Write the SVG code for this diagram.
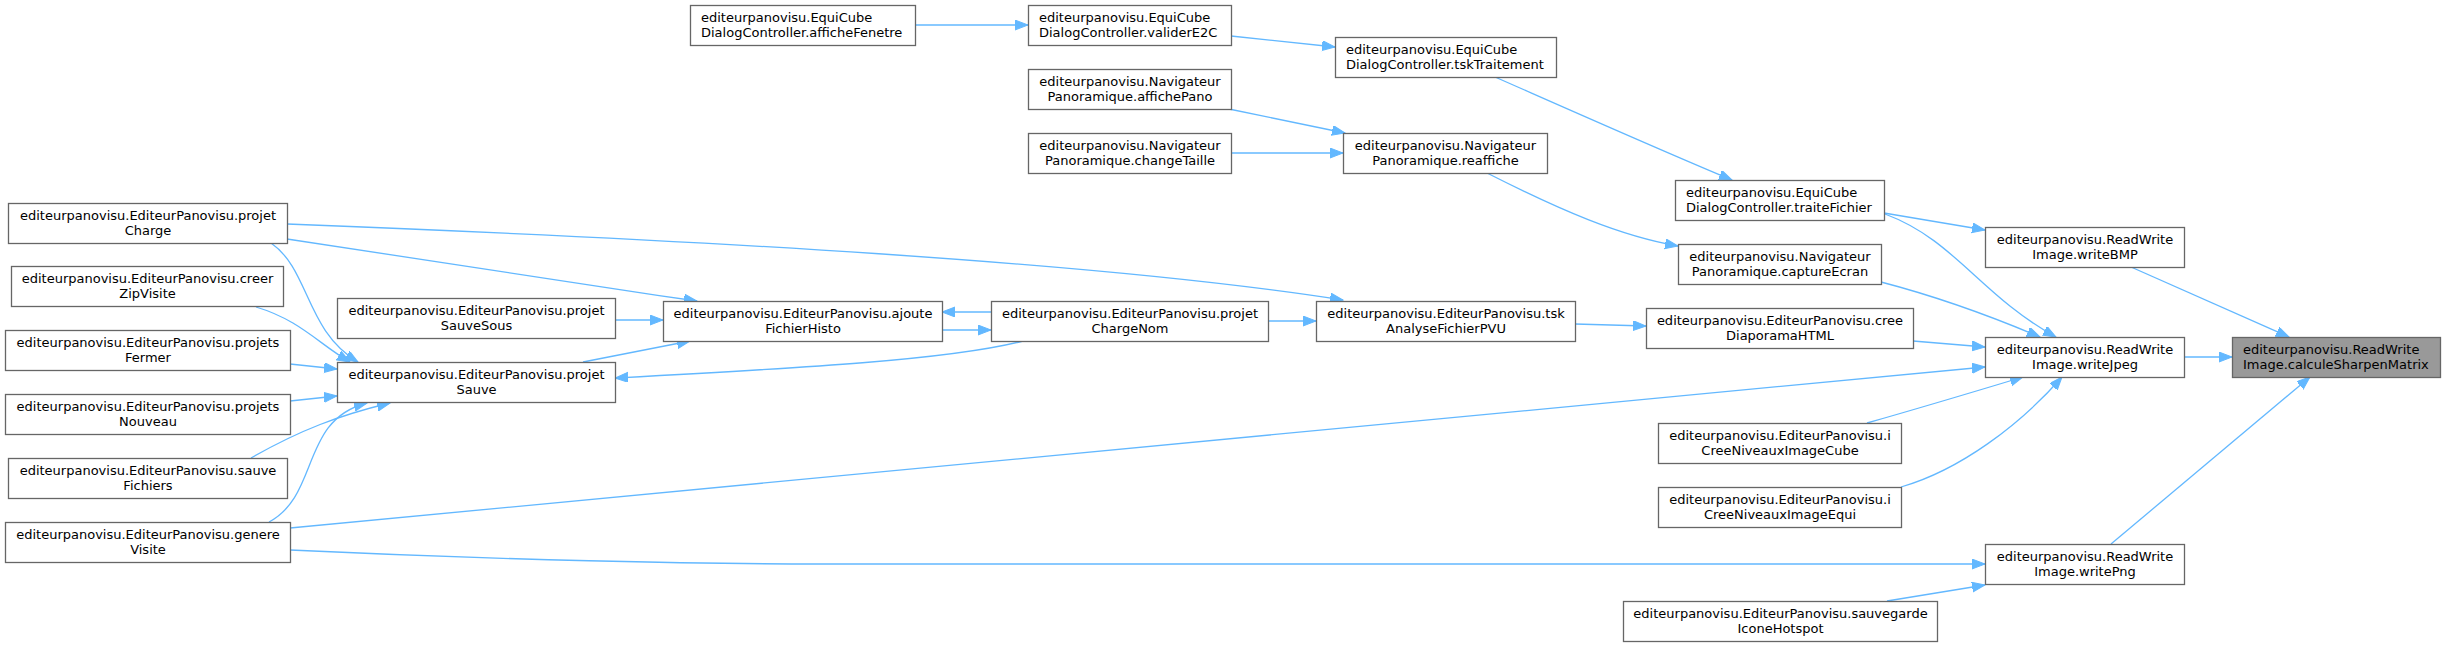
<svg xmlns="http://www.w3.org/2000/svg" width="2445" height="647" viewBox="0 0 2445 647">
<style>
.n rect{fill:#ffffff;stroke:#666666;stroke-width:1.3}
.n.hl rect{fill:#999999}
.n text{font-family:"DejaVu Sans","Liberation Sans",sans-serif;font-size:13px;fill:#000000}
.c{text-anchor:middle}
.l{text-anchor:start}
.e{fill:none;stroke:#63b8ff;stroke-width:1.3}
</style>
<defs>
<marker id="ah" markerUnits="userSpaceOnUse" markerWidth="14" markerHeight="12" refX="13" refY="5" orient="auto">
<path d="M0,0 L13,5 L0,10 z" fill="#63b8ff" stroke="#63b8ff" stroke-width="1"/>
</marker>
</defs>
<rect width="2445" height="647" fill="#ffffff"/>
<g id="connectors">
<path class="e" marker-end="url(#ah)" d="M915,25 L1028,25"/>
<path class="e" marker-end="url(#ah)" d="M1231,36 L1335,47"/>
<path class="e" marker-end="url(#ah)" d="M1229,109 L1345,133"/>
<path class="e" marker-end="url(#ah)" d="M1231,153 L1343,153"/>
<path class="e" marker-end="url(#ah)" d="M1495,77 C1570,110 1660,150 1732,180"/>
<path class="e" marker-end="url(#ah)" d="M1487,173 C1560,210 1620,236 1678,246"/>
<path class="e" marker-end="url(#ah)" d="M1884,213 L1985,230"/>
<path class="e" marker-end="url(#ah)" d="M1885,214 C1955,240 1980,295 2056,337"/>
<path class="e" marker-end="url(#ah)" d="M1881,282 C1950,300 2000,320 2040,337"/>
<path class="e" marker-end="url(#ah)" d="M1913,341 L1985,347"/>
<path class="e" marker-end="url(#ah)" d="M290,528 L1985,367"/>
<path class="e" marker-end="url(#ah)" d="M1867,423 C1920,408 1970,393 2023,377"/>
<path class="e" marker-end="url(#ah)" d="M1901,487 C1960,470 2020,425 2062,377"/>
<path class="e" marker-end="url(#ah)" d="M2131,267 L2289,337"/>
<path class="e" marker-end="url(#ah)" d="M2184,357 L2232,357"/>
<path class="e" marker-end="url(#ah)" d="M2111,544 L2310,377"/>
<path class="e" marker-end="url(#ah)" d="M290,550 C500,560 700,564 820,564 L1985,564"/>
<path class="e" marker-end="url(#ah)" d="M1887,601 L1985,585"/>
<path class="e" marker-end="url(#ah)" d="M1575,324 L1646,326"/>
<path class="e" marker-end="url(#ah)" d="M1268,321 L1316,321"/>
<path class="e" marker-end="url(#ah)" d="M287,224 C700,240 1100,262 1343,300"/>
<path class="e" marker-end="url(#ah)" d="M287,239 C400,255 550,280 697,301"/>
<path class="e" marker-end="url(#ah)" d="M615,320 L663,320"/>
<path class="e" marker-end="url(#ah)" d="M583,362 L690,341"/>
<path class="e" marker-end="url(#ah)" d="M991,312 L942,312"/>
<path class="e" marker-end="url(#ah)" d="M942,330 L991,330"/>
<path class="e" marker-end="url(#ah)" d="M1023,341 C950,360 800,368 615,378"/>
<path class="e" marker-end="url(#ah)" d="M271,243 C310,270 305,330 358,362"/>
<path class="e" marker-end="url(#ah)" d="M256,307 C300,320 320,345 350,362"/>
<path class="e" marker-end="url(#ah)" d="M290,364 L337,369"/>
<path class="e" marker-end="url(#ah)" d="M290,401 L337,396"/>
<path class="e" marker-end="url(#ah)" d="M251,458 C300,430 340,415 390,403"/>
<path class="e" marker-end="url(#ah)" d="M269,522 C320,495 300,420 367,403"/>
</g>
<g id="afficheFenetre" class="n"><rect x="690.5" y="5.5" width="225" height="40"/><text class="l" x="701" y="22">editeurpanovisu.EquiCube</text><text class="l" x="701" y="37">DialogController.afficheFenetre</text></g>
<g id="validerE2C" class="n"><rect x="1028.5" y="5.5" width="203" height="40"/><text class="l" x="1039" y="22">editeurpanovisu.EquiCube</text><text class="l" x="1039" y="37">DialogController.validerE2C</text></g>
<g id="tskTraitement" class="n"><rect x="1335.5" y="37.5" width="221" height="40"/><text class="l" x="1346" y="54">editeurpanovisu.EquiCube</text><text class="l" x="1346" y="69">DialogController.tskTraitement</text></g>
<g id="affichePano" class="n"><rect x="1028.5" y="69.5" width="203" height="40"/><text class="c" x="1130" y="86">editeurpanovisu.Navigateur</text><text class="c" x="1130" y="101">Panoramique.affichePano</text></g>
<g id="changeTaille" class="n"><rect x="1028.5" y="133.5" width="203" height="40"/><text class="c" x="1130" y="150">editeurpanovisu.Navigateur</text><text class="c" x="1130" y="165">Panoramique.changeTaille</text></g>
<g id="reaffiche" class="n"><rect x="1343.5" y="133.5" width="204" height="40"/><text class="c" x="1445.5" y="150">editeurpanovisu.Navigateur</text><text class="c" x="1445.5" y="165">Panoramique.reaffiche</text></g>
<g id="traiteFichier" class="n"><rect x="1675.5" y="180.5" width="209" height="40"/><text class="l" x="1686" y="197">editeurpanovisu.EquiCube</text><text class="l" x="1686" y="212">DialogController.traiteFichier</text></g>
<g id="captureEcran" class="n"><rect x="1678.5" y="244.5" width="203" height="40"/><text class="c" x="1780" y="261">editeurpanovisu.Navigateur</text><text class="c" x="1780" y="276">Panoramique.captureEcran</text></g>
<g id="creeDiaporamaHTML" class="n"><rect x="1646.5" y="308.5" width="267" height="40"/><text class="c" x="1780" y="325">editeurpanovisu.EditeurPanovisu.cree</text><text class="c" x="1780" y="340">DiaporamaHTML</text></g>
<g id="iCreeNiveauxImageCube" class="n"><rect x="1658.5" y="423.5" width="243" height="40"/><text class="c" x="1780" y="440">editeurpanovisu.EditeurPanovisu.i</text><text class="c" x="1780" y="455">CreeNiveauxImageCube</text></g>
<g id="iCreeNiveauxImageEqui" class="n"><rect x="1658.5" y="487.5" width="243" height="40"/><text class="c" x="1780" y="504">editeurpanovisu.EditeurPanovisu.i</text><text class="c" x="1780" y="519">CreeNiveauxImageEqui</text></g>
<g id="sauvegardeIconeHotspot" class="n"><rect x="1623.5" y="601.5" width="314" height="40"/><text class="c" x="1780.5" y="618">editeurpanovisu.EditeurPanovisu.sauvegarde</text><text class="c" x="1780.5" y="633">IconeHotspot</text></g>
<g id="writeBMP" class="n"><rect x="1985.5" y="227.5" width="199" height="40"/><text class="c" x="2085" y="244">editeurpanovisu.ReadWrite</text><text class="c" x="2085" y="259">Image.writeBMP</text></g>
<g id="writeJpeg" class="n"><rect x="1985.5" y="337.5" width="199" height="40"/><text class="c" x="2085" y="354">editeurpanovisu.ReadWrite</text><text class="c" x="2085" y="369">Image.writeJpeg</text></g>
<g id="writePng" class="n"><rect x="1985.5" y="544.5" width="199" height="40"/><text class="c" x="2085" y="561">editeurpanovisu.ReadWrite</text><text class="c" x="2085" y="576">Image.writePng</text></g>
<g id="calculeSharpenMatrix" class="n hl"><rect x="2232.5" y="337.5" width="208" height="40"/><text class="l" x="2243" y="354">editeurpanovisu.ReadWrite</text><text class="l" x="2243" y="369">Image.calculeSharpenMatrix</text></g>
<g id="projetCharge" class="n"><rect x="8.5" y="203.5" width="279" height="40"/><text class="c" x="148" y="220">editeurpanovisu.EditeurPanovisu.projet</text><text class="c" x="148" y="235">Charge</text></g>
<g id="creerZipVisite" class="n"><rect x="11.5" y="266.5" width="272" height="40"/><text class="c" x="147.5" y="283">editeurpanovisu.EditeurPanovisu.creer</text><text class="c" x="147.5" y="298">ZipVisite</text></g>
<g id="projetsFermer" class="n"><rect x="5.5" y="330.5" width="285" height="40"/><text class="c" x="148" y="347">editeurpanovisu.EditeurPanovisu.projets</text><text class="c" x="148" y="362">Fermer</text></g>
<g id="projetsNouveau" class="n"><rect x="5.5" y="394.5" width="285" height="40"/><text class="c" x="148" y="411">editeurpanovisu.EditeurPanovisu.projets</text><text class="c" x="148" y="426">Nouveau</text></g>
<g id="sauveFichiers" class="n"><rect x="8.5" y="458.5" width="279" height="40"/><text class="c" x="148" y="475">editeurpanovisu.EditeurPanovisu.sauve</text><text class="c" x="148" y="490">Fichiers</text></g>
<g id="genereVisite" class="n"><rect x="5.5" y="522.5" width="285" height="40"/><text class="c" x="148" y="539">editeurpanovisu.EditeurPanovisu.genere</text><text class="c" x="148" y="554">Visite</text></g>
<g id="projetSauveSous" class="n"><rect x="337.5" y="298.5" width="278" height="40"/><text class="c" x="476.5" y="315">editeurpanovisu.EditeurPanovisu.projet</text><text class="c" x="476.5" y="330">SauveSous</text></g>
<g id="projetSauve" class="n"><rect x="337.5" y="362.5" width="278" height="40"/><text class="c" x="476.5" y="379">editeurpanovisu.EditeurPanovisu.projet</text><text class="c" x="476.5" y="394">Sauve</text></g>
<g id="ajouteFichierHisto" class="n"><rect x="663.5" y="301.5" width="279" height="40"/><text class="c" x="803" y="318">editeurpanovisu.EditeurPanovisu.ajoute</text><text class="c" x="803" y="333">FichierHisto</text></g>
<g id="projetChargeNom" class="n"><rect x="991.5" y="301.5" width="277" height="40"/><text class="c" x="1130" y="318">editeurpanovisu.EditeurPanovisu.projet</text><text class="c" x="1130" y="333">ChargeNom</text></g>
<g id="tskAnalyseFichierPVU" class="n"><rect x="1316.5" y="301.5" width="259" height="40"/><text class="c" x="1446" y="318">editeurpanovisu.EditeurPanovisu.tsk</text><text class="c" x="1446" y="333">AnalyseFichierPVU</text></g>
</svg>
